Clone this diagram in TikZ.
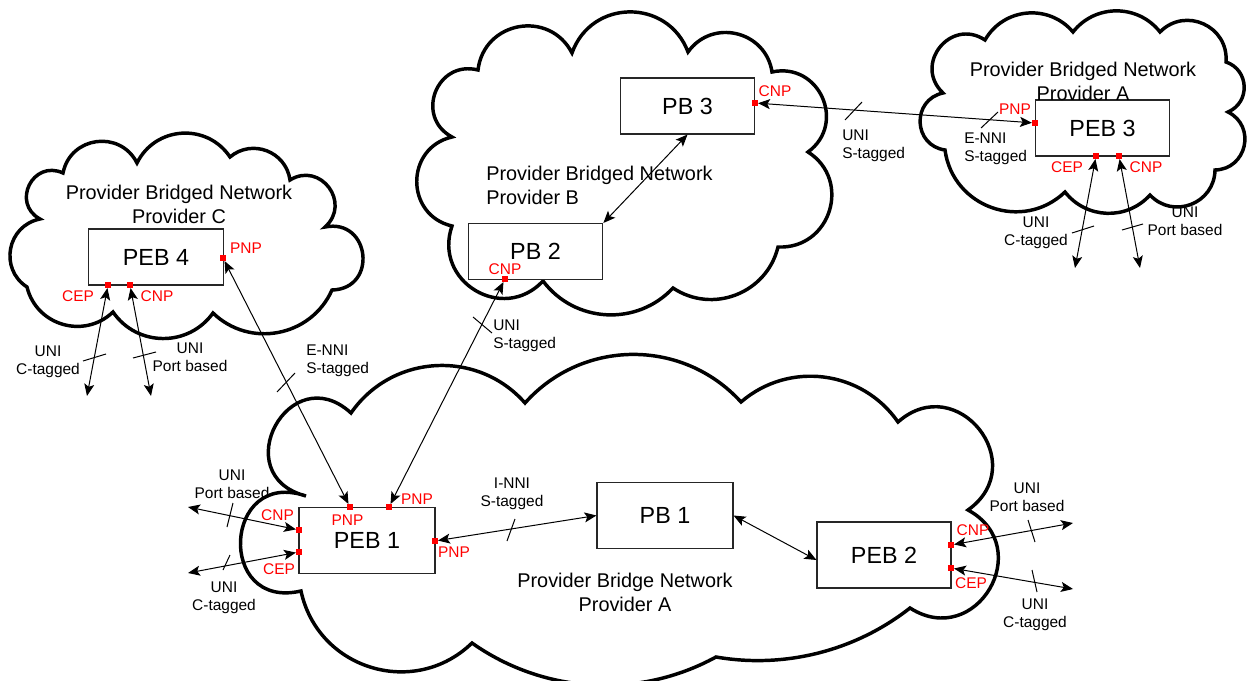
\documentclass[tikz,border=0pt]{standalone}
\usepackage{fontspec}
\setmainfont{Liberation Sans}
\usetikzlibrary{arrows.meta,calc}
\tikzset{
  bump/.code={\pgfmathsetmacro\bumplo{1/(1.1745*cos(#1/2)^2)}%
    \edef\bumptmp{\noexpand\pgfkeysalso{bend left=#1,looseness=\bumplo}}\bumptmp},
  cloudline/.style={draw=black, line width=2.6pt, line join=miter, miter limit=5},
  box/.style={draw=black!85, line width=0.8pt, fill=white, inner sep=0pt,
    minimum width=101pt, minimum height=42pt, font=\fontsize{17.5}{20}\selectfont},
  bigbox/.style={box, minimum width=102pt, minimum height=50pt},
  port/.style={fill=red, inner sep=0pt, outer sep=0pt, minimum size=4.5pt},
  conn/.style={line width=0.75pt, {Stealth[length=9pt,width=7.5pt,inset=2pt]}-{Stealth[length=9pt,width=7.5pt,inset=2pt]}},
  tickm/.style={line width=0.75pt},
  lab/.style={inner sep=0pt, align=center, font=\fontsize{11.6}{13.2}\selectfont},
  labl/.style={lab, align=left},
  plab/.style={inner sep=0pt, text=red, font=\fontsize{11.6}{13.2}\selectfont},
  clab/.style={inner sep=0pt, align=center, font=\fontsize{14.9}{18}\selectfont},
}
\begin{document}
\begin{tikzpicture}[x=0.75pt, y=-0.75pt]
\useasboundingbox (0,0) rectangle (1249,681);
% ---------- clouds ----------
\draw[cloudline] (306,496) to[bump=104] (351,413) to[bump=52] (525,403)
  to[bump=48] (741,402) to[bump=48] (898,422) to[bump=93] (968,510)
  to[bump=92] (910,608) to[bump=24] (716,657) to[bump=32] (472,643)
  to[bump=61] (301,591) to[bump=106] cycle;
\draw[cloudline] (452,137) to[bump=83] (478,70) to[bump=73] (572,53)
  to[bump=70] (688,52) to[bump=68] (772,72) to[bump=78] (808,152)
  to[bump=75] (778,247) to[bump=55] (673,288) to[bump=50] (543,281)
  to[bump=78] (452,226) to[bump=77] cycle;
\draw[cloudline] (27,287) to[bump=68] (40,219) to[bump=88] (63,173)
  to[bump=71] (137,163) to[bump=60] (230,157) to[bump=61] (290,180)
  to[bump=85] (325,227) to[bump=95] (332,290) to[bump=55] (213,313)
  to[bump=55] (113,312) to[bump=60] cycle;
\draw[cloudline] (945,150) to[bump=80] (943,93) to[bump=85] (985,40)
  to[bump=55] (1073,32) to[bump=52] (1160,32) to[bump=70] (1226,62)
  to[bump=69] (1228,112) to[bump=76] (1215,170) to[bump=68] (1150,195)
  to[bump=50] (1065,192) to[bump=63] cycle;
% ---------- boxes ----------
\node[bigbox] (PEB1) at (367,540.5) {PEB 1};
\node[bigbox] (PB1) at (665,515.5) {PB 1};
\node[bigbox, minimum width=100.5pt, minimum height=49.5pt] (PEB2) at (884,555) {PEB 2};
\node[box] (PB3) at (687.5,106) {PB 3};
\node[box] (PB2) at (535.5,251.5) {PB 2};
\node[box] (PEB4) at (156,257) {PEB 4};
\node[box] (PEB3) at (1102.5,128) {PEB 3};
% ---------- ports ----------
\node[port] (p1cnp) at (299,530) {};
\node[port] (p1cep) at (299,552) {};
\node[port] (p1pnpa) at (350,507) {};
\node[port] (p1pnpb) at (389,507) {};
\node[port] (p1pnpc) at (435,541) {};
\node[port] (p2cnp) at (951,545) {};
\node[port] (p2cep) at (951,568) {};
\node[port] (p3pnp) at (1035,123) {};
\node[port] (p3cep) at (1096,156) {};
\node[port] (p3cnp) at (1119,156) {};
\node[port] (pb3cnp) at (755,103) {};
\node[port] (pb2cnp) at (505,279) {};
\node[port] (p4pnp) at (223,258) {};
\node[port] (p4cep) at (108,285) {};
\node[port] (p4cnp) at (130,285) {};
% ---------- free ends ----------
\coordinate (e1) at (188,507);
\coordinate (e2) at (188,573);
\coordinate (e3) at (1073,523);
\coordinate (e4) at (1073,589);
\coordinate (e5) at (1075,268);
\coordinate (e6) at (1140,268);
\coordinate (e7) at (87,396);
\coordinate (e8) at (151,396);
% ---------- connectors ----------
\draw[conn] (p4pnp) -- (p1pnpa);
\draw[conn] (pb2cnp) -- (p1pnpb);
\draw[conn] (PB2.north east) -- (PB3.south);
\draw[conn] (pb3cnp) -- (p3pnp);
\draw[conn] (p1pnpc) -- (PB1.west);
\draw[conn] (PB1.east) -- ($(PEB2.west)+(0,5)$);
\draw[conn] (p1cnp) -- (e1);
\draw[conn] (p1cep) -- (e2);
\draw[conn] (p2cnp) -- (e3);
\draw[conn] (p2cep) -- (e4);
\draw[conn] (p3cep) -- (e5);
\draw[conn] (p3cnp) -- (e6);
\draw[conn] (p4cep) -- (e7);
\draw[conn] (p4cnp) -- (e8);
% ---------- ticks ----------
\draw[tickm] (277,392) -- (295,373);
\draw[tickm] (473,317) -- (492,333);
\draw[tickm] (845,120) -- (862,102);
\draw[tickm] (981,128) -- (998,112);
\draw[tickm] (507,541) -- (515,519);
\draw[tickm] (227,527) -- (233,503);
\draw[tickm] (223,570) -- (230,555);
\draw[tickm] (1028,520) -- (1035,542);
\draw[tickm] (1032,570) -- (1037,592);
\draw[tickm] (1072,233) -- (1094,226);
\draw[tickm] (1122,230) -- (1143,224);
\draw[tickm] (83,361) -- (106,354);
\draw[tickm] (133,358) -- (156,352);
% ---------- cloud labels ----------
\node[clab, anchor=north] (lC) at (179,185) {Provider Bridged Network\\Provider C};
\node[clab, anchor=north west, align=left] (lB) at (486,166) {Provider Bridged Network\\Provider B};
\node[clab, anchor=north] (lA3) at (1083,62) {Provider Bridged Network\\Provider A};
\node[clab, anchor=north] (lA) at (625,573) {Provider Bridge Network\\Provider A};
% ---------- link labels ----------
\node[lab, anchor=north] (t1) at (48,346) {UNI\\C-tagged};
\node[lab, anchor=north] (t2) at (190,343) {UNI\\Port based};
\node[labl, anchor=north west] (t3) at (306,345) {E-NNI\\S-tagged};
\node[labl, anchor=north west] (t4) at (493,320) {UNI\\S-tagged};
\node[labl, anchor=north west] (t5) at (842,130) {UNI\\S-tagged};
\node[labl, anchor=north west] (t6) at (964,133) {E-NNI\\S-tagged};
\node[lab, anchor=north] (t7) at (1036,217) {UNI\\C-tagged};
\node[lab, anchor=north] (t8) at (1185,207) {UNI\\Port based};
\node[lab, anchor=north] (t9) at (232,470) {UNI\\Port based};
\node[lab, anchor=north] (t10) at (224,582) {UNI\\C-tagged};
\node[lab, anchor=north] (t11) at (512,478) {I-NNI\\S-tagged};
\node[lab, anchor=north] (t12) at (1027,483) {UNI\\Port based};
\node[lab, anchor=north] (t13) at (1035,599) {UNI\\C-tagged};
% ---------- port labels ----------
\node[plab] (r1) at (277.5,515) {CNP};
\node[plab] (r2) at (279,569) {CEP};
\node[plab] (r3) at (347.5,520) {PNP};
\node[plab] (r4) at (417,499) {PNP};
\node[plab] (r5) at (454,552) {PNP};
\node[plab] (r6) at (973,530) {CNP};
\node[plab] (r7) at (971,583) {CEP};
\node[plab] (r8) at (1015,109) {PNP};
\node[plab] (r9) at (1067,167) {CEP};
\node[plab] (r10) at (1146,167) {CNP};
\node[plab] (r11) at (775,91) {CNP};
\node[plab] (r12) at (505,269) {CNP};
\node[plab] (r13) at (246,248) {PNP};
\node[plab] (r14) at (78,296) {CEP};
\node[plab] (r15) at (157,296) {CNP};
\end{tikzpicture}
\end{document}
